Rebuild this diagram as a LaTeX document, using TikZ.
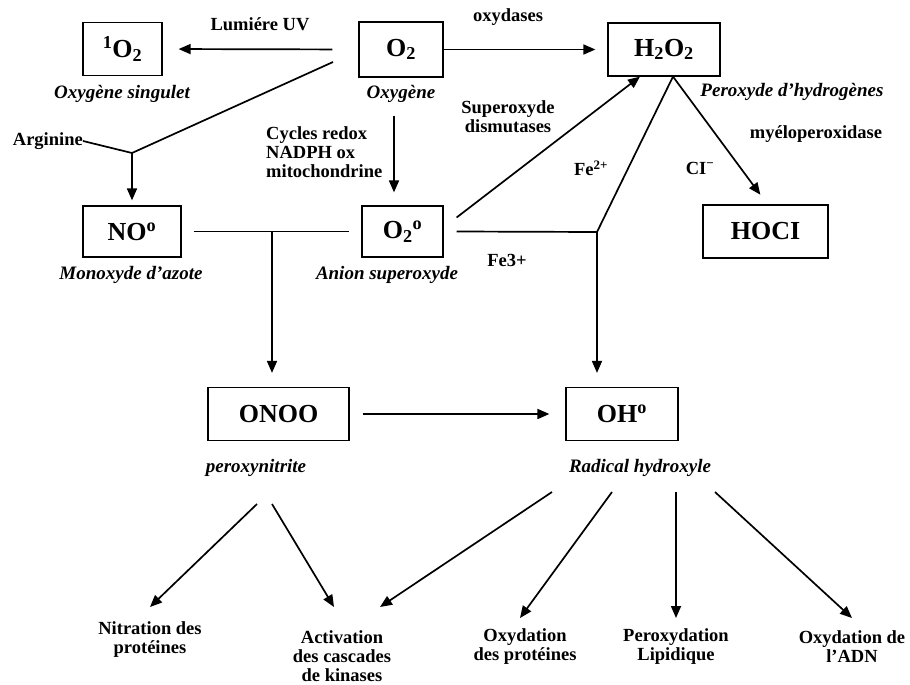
\documentclass[tikz,border=0pt]{standalone}
\usepackage{fontspec}
\setmainfont{Liberation Serif}
\usetikzlibrary{arrows.meta}
\begin{document}
\begin{tikzpicture}[x=1pt,y=-1pt,
  box/.style={draw, line width=1.2pt, inner sep=0pt, font=\fontsize{26}{28}\selectfont\bfseries},
  lab/.style={font=\fontsize{18.5}{19}\selectfont\bfseries, inner sep=0pt, align=center},
  ital/.style={font=\fontsize{19}{20}\selectfont\bfseries\itshape, inner sep=0pt},
  con/.style={line width=1.7pt},
  arr/.style={con, -{Triangle[length=12pt,width=10pt]}}]
\useasboundingbox[fill=white] (0,0) rectangle (910,685);

% boxes
\node[box, minimum width=79pt, minimum height=53pt] (so) at (122.5,49) {\textsuperscript{1}O\textsubscript{2}};
\node[box, minimum width=84pt, minimum height=55pt] (o2) at (401,49.5) {O\textsubscript{2}};
\node[box, minimum width=112pt, minimum height=53pt] (h2o2) at (664,49.5) {H\textsubscript{2}O\textsubscript{2}};
\node[box, minimum width=98pt, minimum height=51pt] (no) at (132,231.5) {NO\textsuperscript{o}};
\node[box, minimum width=81pt, minimum height=51pt] (o2r) at (402.5,231.5) {O\textsubscript{2}\textsuperscript{o}};
\node[box, minimum width=125pt, minimum height=53pt] (hocl) at (765.5,231.5) {HOCI};
\node[box, minimum width=141pt, minimum height=53pt] (onoo) at (278.5,414) {ONOO};
\node[box, minimum width=112pt, minimum height=53pt] (oh) at (622,414) {OH\textsuperscript{o}};

% italic names
\node[ital] (tso) at (122,94) {Oxygène singulet};
\node[ital] (to2) at (401,94) {Oxygène};
\node[ital] (th2o2) at (792,92) {Peroxyde d’hydrogènes};
\node[ital] (tno) at (131,275) {Monoxyde d’azote};
\node[ital] (to2r) at (387,275) {Anion superoxyde};
\node[ital] (tonoo) at (256,468) {peroxynitrite};
\node[ital] (toh) at (640,468) {Radical hydroxyle};

% reaction labels
\node[lab] (uv) at (260,24) {Lumiére UV};
\node[lab] (oxy) at (508,17) {oxydases};
\node[lab, anchor=east] (arg) at (83,141) {Arginine};
\node[lab, align=left, anchor=north west] (cyc) at (266,126) {Cycles redox\\NADPH ox\\mitochondrine};
\node[lab] (sod) at (508,117) {Superoxyde\\dismutases};
\node[lab] (mpo) at (816,134) {myéloperoxidase};
\node[lab] (fe2) at (591,168) {Fe\textsuperscript{2+}};
\node[lab] (cl) at (700,168) {CI\textsuperscript{−}};
\node[lab] (fe3) at (507,260) {Fe3+};

% outcomes
\node[lab] (nit) at (150,640) {Nitration des\\protéines};
\node[lab] (act) at (342,656) {Activation\\des cascades\\de kinases};
\node[lab] (oxp) at (525,647) {Oxydation\\des protéines};
\node[lab] (lip) at (676,647) {Peroxydation\\Lipidique};
\node[lab] (adn) at (852,647) {Oxydation de\\l’ADN};

% junctions and free ends
\coordinate (j1) at (132,153);
\coordinate (o2sw) at (333,62);
\coordinate (j2) at (597,232);
\coordinate (j3) at (272,232);
\coordinate (p1) at (257,504);
\coordinate (p2) at (272,504);
\coordinate (q1) at (552,492);
\coordinate (q2) at (612,492);
\coordinate (q3) at (676,492);
\coordinate (q4) at (715,492);
\coordinate (t1) at (150,607);
\coordinate (t2) at (334,607);
\coordinate (t3) at (380,607);
\coordinate (t4) at (520,618);
\coordinate (t5) at (676,618);
\coordinate (t6) at (852,618);

% connectors
\draw[arr, shorten <=26pt, shorten >=16pt] (o2.west) -- (so.east);
\draw[arr, shorten >=12pt] (o2.east) -- (h2o2.west);
\draw[con] (o2sw) -- (j1);
\draw[con] (arg.east) -- (j1);
\draw[arr, shorten >=5pt] (j1) -- (no.north);
\draw[arr, shorten <=38pt, shorten >=13pt] ([xshift=-7pt]o2.south) -- ([xshift=-7pt]o2.south |- o2r.north);
\draw[arr] ([shift={(13,-14)}]o2r.east) -- ([xshift=-24pt]h2o2.south);
\draw[arr, shorten >=12pt] ([xshift=9pt]h2o2.south) -- ([xshift=2pt]hocl.north);
\draw[con] ([xshift=9pt]h2o2.south) -- (j2);
\draw[con] ([xshift=13pt]o2r.east) -- (j2);
\draw[arr, shorten >=14pt] (j2) -- (j2 |- oh.north);
\draw[con] ([xshift=12pt]no.east) -- ([xshift=-12pt]o2r.west);
\draw[arr, shorten >=14pt] (j3) -- (j3 |- onoo.north);
\draw[arr, shorten <=13pt, shorten >=16pt] (onoo.east) -- (oh.west);

\draw[arr] (p1) -- (t1);
\draw[arr] (p2) -- (t2);
\draw[arr] (q1) -- (t3);
\draw[arr] (q2) -- (t4);
\draw[arr] (q3) -- (t5);
\draw[arr] (q4) -- (t6);
\end{tikzpicture}
\end{document}
